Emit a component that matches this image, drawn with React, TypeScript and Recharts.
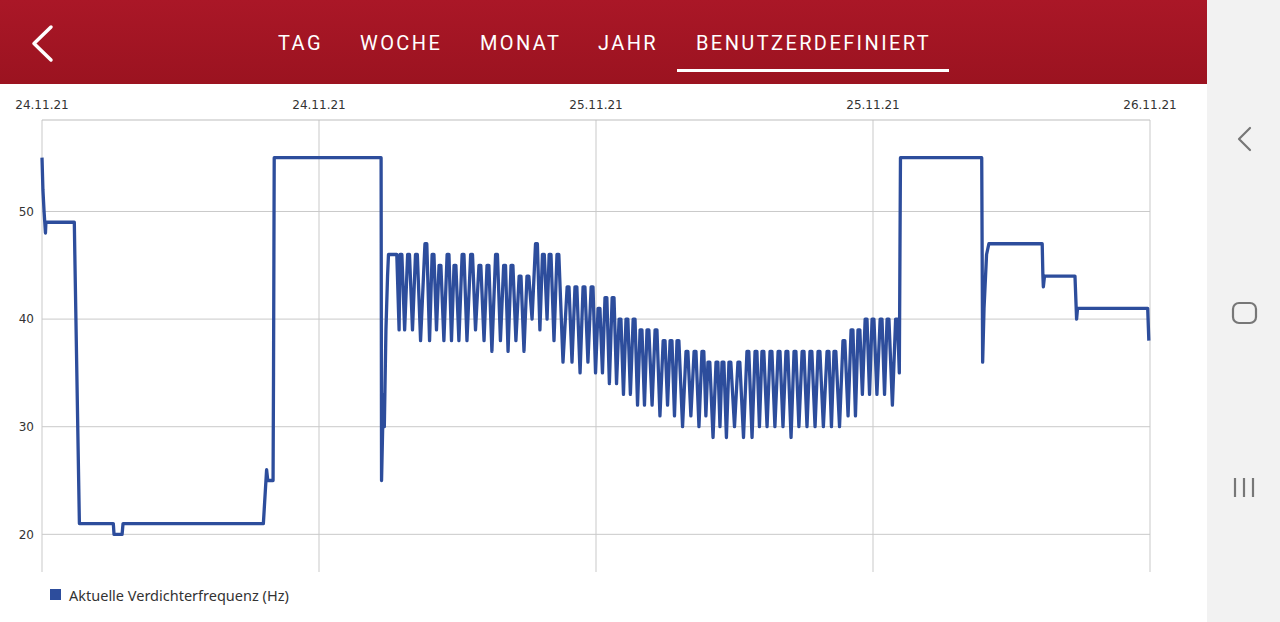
import React from 'react';
import { LineChart, Line, XAxis, YAxis, CartesianGrid } from 'recharts';

// Verdichterfrequenz (hours since 24.11.21 00:00, Hz)
const morningHours = [
  0.0, 0.04, 0.09, 0.15, 0.17, 1.4, 1.43, 1.62, 3.09, 3.12, 3.47, 3.51, 9.59, 9.73, 9.78,
  10.01, 10.03, 10.06, 14.69, 14.71, 14.79, 14.83, 14.9, 14.97, 15.01, 15.37,
];
const morningHz = [
  55, 52, 50, 48, 49, 49, 45, 21, 21, 20, 20, 21, 21, 26, 25,
  25, 35, 55, 55, 25, 33, 30, 39, 44, 46, 46,
];

// cycling phase: compressor swings between a low and a short high plateau
const troughHours = [
  15.47, 15.71, 16.05, 16.4, 16.79, 17.09, 17.41, 17.74, 18.06, 18.41, 18.78, 19.15, 19.49, 19.86,
  20.19, 20.53, 20.88, 21.23, 21.57, 21.88, 22.18, 22.57, 22.96, 23.31, 23.65, 23.98, 24.28, 24.58,
  24.89, 25.19, 25.49, 25.8, 26.1, 26.43, 26.77, 27.1, 27.4, 27.75, 28.11, 28.46, 28.76, 29.07,
  29.37, 29.65, 30.0, 30.39, 30.76, 31.08, 31.41, 31.75, 32.1, 32.45, 32.79, 33.14, 33.49, 33.85,
  34.2, 34.55, 34.92, 35.24, 35.54, 35.85, 36.17, 36.5, 36.84, 37.14,
];
const troughHz = [
  39, 39, 39, 38, 38, 39, 38, 38, 38, 38, 39, 38, 37, 38,
  37, 38, 37, 40, 39, 40, 38, 36, 36, 35, 36, 35, 35, 34,
  34, 33, 33, 32, 32, 32, 31, 32, 31, 30, 31, 30, 31, 29,
  30, 29, 30, 29, 29, 30, 30, 30, 30, 29, 30, 30, 30, 30,
  30, 30, 31, 31, 33, 33, 33, 33, 32, 35,
];
const peakStartHours = [
  15.51, 15.84, 16.18, 16.59, 16.9, 17.2, 17.55, 17.85, 18.2, 18.57, 18.93, 19.28, 19.65, 20.0,
  20.32, 20.67, 21.01, 21.38, 21.68, 21.97, 22.31, 22.75, 23.09, 23.44, 23.79, 24.09, 24.39, 24.7,
  25.0, 25.3, 25.61, 25.91, 26.21, 26.56, 26.91, 27.21, 27.51, 27.9, 28.25, 28.59, 28.85, 29.2,
  29.46, 29.76, 30.15, 30.54, 30.89, 31.19, 31.54, 31.89, 32.23, 32.58, 32.93, 33.27, 33.62, 34.01,
  34.31, 34.7, 35.05, 35.35, 35.66, 35.96, 36.31, 36.61, 36.98,
];
const peakEndHours = [
  15.59, 15.92, 16.26, 16.67, 16.98, 17.28, 17.63, 17.93, 18.28, 18.65, 19.01, 19.36, 19.73, 20.08,
  20.4, 20.75, 21.09, 21.46, 21.76, 22.05, 22.39, 22.83, 23.17, 23.52, 23.87, 24.17, 24.47, 24.78,
  25.08, 25.38, 25.69, 25.99, 26.29, 26.64, 26.99, 27.29, 27.59, 27.98, 28.33, 28.67, 28.93, 29.28,
  29.54, 29.84, 30.23, 30.62, 30.97, 31.27, 31.62, 31.97, 32.31, 32.66, 33.01, 33.35, 33.7, 34.09,
  34.39, 34.78, 35.13, 35.43, 35.74, 36.04, 36.39, 36.69, 37.06,
];
const peakHz = [
  46, 46, 46, 47, 46, 45, 46, 45, 46, 46, 45, 45, 46, 45,
  45, 44, 44, 47, 46, 46, 46, 43, 43, 43, 43, 41, 42, 42,
  40, 40, 40, 39, 39, 39, 38, 38, 38, 37, 37, 37, 36, 36,
  36, 36, 36, 37, 37, 37, 37, 37, 37, 37, 37, 37, 37, 37,
  37, 38, 39, 39, 40, 40, 40, 40, 40,
];

const eveningHours = [
  37.19, 40.71, 40.75, 40.81, 40.92, 41.02, 43.33, 43.36, 43.38, 43.43, 44.75, 44.82, 44.86,
  47.9, 47.95,
];
const eveningHz = [55, 55, 36, 41, 46, 47, 47, 44, 43, 44, 44, 40, 41, 41, 38];

const tickHours = [0, 12, 24, 36, 48];
const tickDates = ['24.11.21', '24.11.21', '25.11.21', '25.11.21', '26.11.21'];
const hzTicks = [20, 30, 40, 50];

const tabs = ['TAG', 'WOCHE', 'MONAT', 'JAHR', 'BENUTZERDEFINIERT'];
const seriesName = 'Aktuelle Verdichterfrequenz (Hz)';

const tabLeft = [278, 360, 480, 598, 696];
const lineColor = '#2d4d9c';
const gridColor = '#c9c9c9';

type Row = { t: number; hz: number };
const toRows = (hours: number[], hz: number[]): Row[] => hours.map((t, i) => ({ t, hz: hz[i] }));

const cycleRows: Row[] = [];
troughHours.forEach((t, i) => {
  cycleRows.push({ t, hz: troughHz[i] });
  if (i < peakHz.length) {
    cycleRows.push({ t: peakStartHours[i], hz: peakHz[i] });
    cycleRows.push({ t: peakEndHours[i], hz: peakHz[i] });
  }
});

const data: Row[] = [
  ...toRows(morningHours, morningHz),
  ...cycleRows,
  ...toRows(eveningHours, eveningHz),
];

const dateFor = (h: number) => tickDates[tickHours.indexOf(h)] ?? '';

const App: React.FC = () => {
  return (
    <div style={{ position: 'absolute', left: 0, top: 0, width: 1280, height: 622, background: '#fff', overflow: 'hidden' }}>
      {/* app bar */}
      <div
        style={{
          position: 'absolute', left: 0, top: 0, width: 1207, height: 84,
          background: 'linear-gradient(#aa1727, #9b1320)',
        }}
      >
        <svg width={60} height={84} style={{ position: 'absolute', left: 0, top: 0 }}>
          <polyline points="51,27 34,43.5 51,60" fill="none" stroke="#fff" strokeWidth={3.5} strokeLinecap="round" strokeLinejoin="round" />
        </svg>
        {tabs.map((tab, i) => (
          <span
            key={tab}
            style={{
              position: 'absolute', left: tabLeft[i], top: 33, lineHeight: '20px',
              fontFamily: 'Roboto, sans-serif', fontSize: 20, letterSpacing: 2.4,
              color: '#fff', whiteSpace: 'nowrap',
            }}
          >
            {tab}
          </span>
        ))}
        <div style={{ position: 'absolute', left: 677, top: 69, width: 272, height: 3, background: '#fff' }} />
      </div>

      {/* system navigation */}
      <div style={{ position: 'absolute', left: 1207, top: 0, width: 73, height: 622, background: '#f2f2f2' }}>
        <svg width={73} height={622}>
          <polyline points="43,128 32,139 43,150" fill="none" stroke="#777" strokeWidth={2.2} strokeLinecap="round" strokeLinejoin="round" />
          <rect x={26} y={303} width={23} height={20} rx={6} fill="none" stroke="#777" strokeWidth={2.2} />
          <line x1={28} y1={478} x2={28} y2={497} stroke="#777" strokeWidth={2.2} />
          <line x1={37} y1={478} x2={37} y2={497} stroke="#777" strokeWidth={2.2} />
          <line x1={46} y1={478} x2={46} y2={497} stroke="#777" strokeWidth={2.2} />
        </svg>
      </div>

      {/* chart */}
      <div style={{ position: 'absolute', left: 0, top: 84 }}>
        <LineChart width={1207} height={488} data={data} margin={{ top: 0, right: 57, left: 0, bottom: 0 }}>
          <CartesianGrid stroke={gridColor} syncWithTicks />
          <XAxis
            dataKey="t"
            type="number"
            orientation="top"
            domain={[0, 48]}
            ticks={tickHours}
            tickFormatter={dateFor}
            height={36}
            tickLine={false}
            tickSize={0}
            tickMargin={11}
            axisLine={{ stroke: '#bdbdbd' }}
            tick={{ fill: '#333', fontSize: 12, fontFamily: 'DejaVu Sans, sans-serif' }}
            interval={0}
          />
          <YAxis
            type="number"
            domain={[16.5, 58.5]}
            ticks={hzTicks}
            width={42}
            axisLine={false}
            tickLine={false}
            tickSize={0}
            tickMargin={8}
            tick={{ fill: '#333', fontSize: 12, fontFamily: 'DejaVu Sans, sans-serif' }}
            interval={0}
          />
          <Line
            type="linear"
            dataKey="hz"
            name={seriesName}
            stroke={lineColor}
            strokeWidth={3.3}
            strokeLinejoin="round"
            dot={false}
            activeDot={false}
            isAnimationActive={false}
          />
        </LineChart>
      </div>

      {/* legend */}
      <div style={{ position: 'absolute', left: 50, top: 589, width: 11, height: 11, background: lineColor }} />
      <span
        style={{
          position: 'absolute', left: 69, top: 586, lineHeight: '18px',
          fontFamily: '"Noto Sans", sans-serif', fontSize: 14.5, color: '#333', whiteSpace: 'nowrap',
        }}
      >
        {seriesName}
      </span>
    </div>
  );
};

export default App;
